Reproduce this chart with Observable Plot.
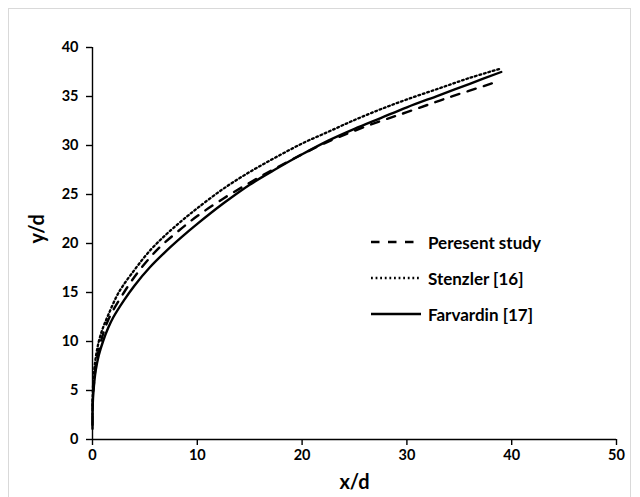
<!DOCTYPE html>
<html>
<head>
<meta charset="utf-8">
<script src="https://cdn.jsdelivr.net/npm/d3@7"></script>
<script src="https://cdn.jsdelivr.net/npm/@observablehq/plot@0.6"></script>
<style>
  html, body { margin: 0; padding: 0; background: #fff; overflow: hidden; }
  #wrap { position: relative; width: 640px; height: 497px; overflow: hidden; }
  #border { position: absolute; left: 8px; top: 8px; width: 623px; height: 520px; border: 1px solid #d9d9d9; box-sizing: border-box; pointer-events: none; }
  #legend { position: absolute; left: 370px; top: 224px; font-family: Lato, "Open Sans", sans-serif; font-weight: bold; font-size: 17px; color: #000; }
  .row { display: flex; align-items: center; height: 36px; }
  .row svg { margin-right: 6px; }
</style>
</head>
<body>
<div id="wrap">
  <div id="chart"></div>
  <div id="border"></div>
  <div id="legend"></div>
</div>
<script>
// Series
const presentX = [0, 0.03, 0.12, 0.35, 0.8, 1.5, 3, 4.5, 6.3, 8, 10, 12.5, 15, 17.5, 20, 22.5, 25, 27.5, 30, 34, 38.6];
const presentY = [1.5, 4, 5.5, 7.8, 10, 12.2, 15, 17.3, 19.5, 21.1, 22.8, 24.6, 26.2, 27.7, 29.1, 30.4, 31.5, 32.5, 33.4, 34.9, 36.5];

const stenzlerX = [0, 0.02, 0.1, 0.3, 0.6, 1, 1.5, 2.5, 4, 5.5, 7, 8.5, 10, 12.5, 15, 17.5, 20, 22.5, 25, 27.5, 30, 33, 36, 38.8];
const stenzlerY = [2.5, 4.5, 6.3, 8.3, 10, 11.4, 12.7, 15, 17.3, 19.3, 20.9, 22.3, 23.6, 25.6, 27.3, 28.8, 30.2, 31.4, 32.6, 33.7, 34.7, 35.8, 36.9, 37.8];

const farvardinX = [0, 0.02, 0.1, 0.3, 0.6, 1, 1.5, 2, 3, 4, 5.5, 7, 8.5, 10, 12.5, 15, 17.5, 20, 22.5, 25, 27.5, 30, 33, 36, 39];
const farvardinY = [1.1, 3.5, 5.0, 7.0, 8.6, 10, 11.4, 12.5, 14.2, 15.7, 17.6, 19.2, 20.65, 22.0, 24.1, 26.0, 27.6, 29.1, 30.5, 31.7, 32.8, 33.9, 35.1, 36.3, 37.5];

const seriesNames = ["Peresent study", "Stenzler [16]", "Farvardin [17]"];
const xTicks = [0, 10, 20, 30, 40, 50];
const yTicks = [0, 5, 10, 15, 20, 25, 30, 35, 40];

const styles = {
  "Peresent study": {strokeWidth: 2.4, strokeDasharray: "8.5,8.5"},
  "Stenzler [16]": {strokeWidth: 2.3, strokeDasharray: "1.8,2.8"},
  "Farvardin [17]": {strokeWidth: 2.4, strokeDasharray: null}
};

function toRows(xs, ys) { return xs.map((x, i) => ({x, y: ys[i]})); }
const data = {
  "Peresent study": toRows(presentX, presentY),
  "Stenzler [16]": toRows(stenzlerX, stenzlerY),
  "Farvardin [17]": toRows(farvardinX, farvardinY)
};

const font = "Lato, 'Open Sans', sans-serif";

const lines = seriesNames.map(name => Plot.line(data[name], {
  x: "x", y: "y", stroke: "#000", curve: "catmull-rom",
  strokeWidth: styles[name].strokeWidth,
  strokeDasharray: styles[name].strokeDasharray
}));

const chart = Plot.plot({
  width: 640,
  height: 497,
  marginLeft: 92,
  marginRight: 24,
  marginTop: 47,
  marginBottom: 58,
  style: {fontFamily: font, background: "#fff", overflow: "visible"},
  x: {domain: [0, 50]},
  y: {domain: [0, 40]},
  marks: [
    ...lines,
    Plot.ruleY([0], {stroke: "#000", strokeWidth: 1.4}),
    Plot.ruleX([0], {stroke: "#000", strokeWidth: 1.4}),
    Plot.axisX({ticks: xTicks, tickSize: 6, tickPadding: 4, label: null, fontSize: 14.5, fontWeight: "bold", stroke: "#000", strokeWidth: 1.4, color: "#000"}),
    Plot.axisY({ticks: yTicks, tickSize: 6, tickPadding: 8, label: null, fontSize: 14.5, fontWeight: "bold", stroke: "#000", strokeWidth: 1.4, color: "#000"}),
    Plot.text(["x/d"], {frameAnchor: "bottom", dy: 49, fontSize: 20, fontWeight: "bold", fill: "#000"}),
    Plot.text(["y/d"], {frameAnchor: "left", dx: -55, rotate: -90, fontSize: 20, fontWeight: "bold", fill: "#000"})
  ]
});
document.getElementById("chart").appendChild(chart);

// Legend (HTML overlay)
const legend = document.getElementById("legend");
seriesNames.forEach(name => {
  const row = document.createElement("div");
  row.className = "row";
  const s = styles[name];
  row.innerHTML = `<svg width="52" height="10"><line x1="1" y1="5" x2="51" y2="5" stroke="#000" stroke-width="${s.strokeWidth}" ${s.strokeDasharray ? `stroke-dasharray="${s.strokeDasharray}"` : ""}/></svg><span>${name}</span>`;
  legend.appendChild(row);
});
</script>
</body>
</html>
